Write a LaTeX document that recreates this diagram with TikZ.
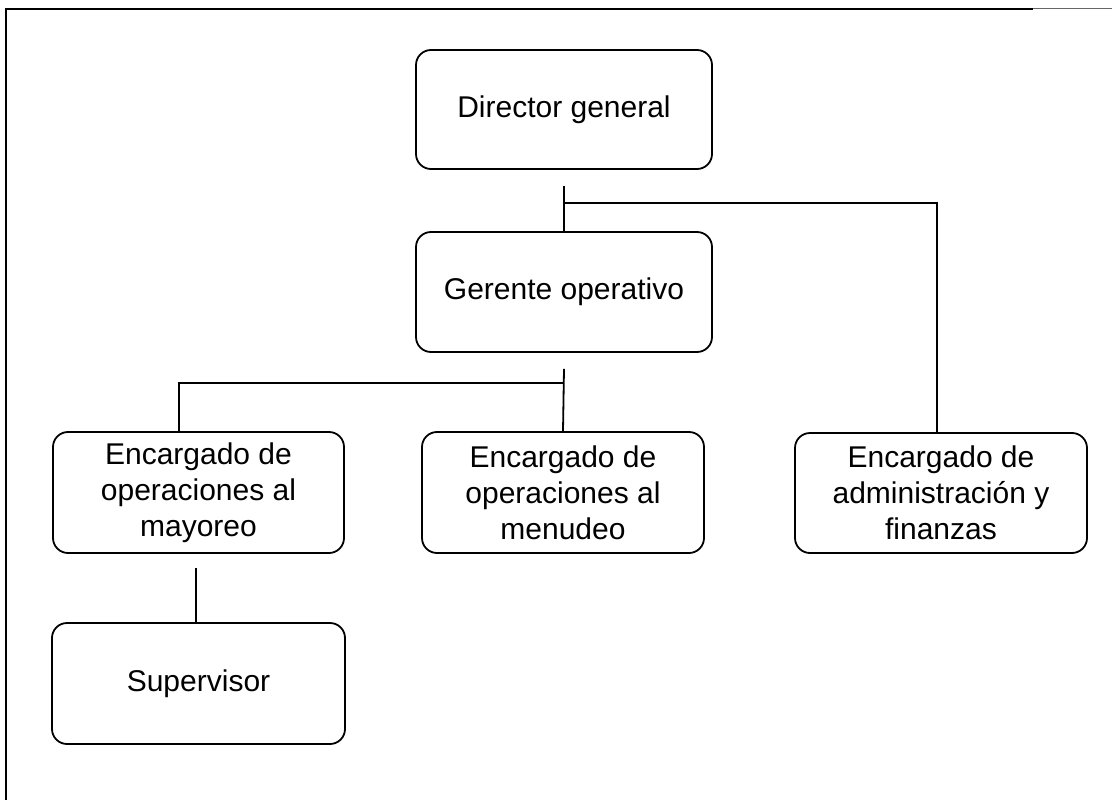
\documentclass[tikz,border=0pt]{standalone}
\usepackage{fontspec}
\setmainfont{Liberation Sans}
\usetikzlibrary{calc}
\tikzset{
  orgbox/.style={draw, line width=1.8pt, rounded corners=15pt, align=center,
    inner sep=0pt, font=\fontsize{30}{36}\selectfont},
  link/.style={line width=1.8pt},
  thinlink/.style={line width=1.2pt},
  frameline/.style={line width=2.6pt}
}
\begin{document}
\begin{tikzpicture}[x=1pt,y=-1pt]
\useasboundingbox (0,0) rectangle (1112,800);
% frame
\draw[frameline] (1033,9) -- (6,9) -- (6,800);
\draw[line width=1.2pt, black!60] (1033,8.5) -- (1112,8.5);
% nodes
\node[orgbox, minimum width=296pt, minimum height=119pt] (dir) at (564,109.5) {Director general};
\node[orgbox, minimum width=296pt, minimum height=120pt] (ger) at (564,292) {Gerente operativo};
\node[orgbox, minimum width=291pt, minimum height=121pt] (may) at (198.5,492.5) {Encargado de\\operaciones al\\mayoreo};
\node[orgbox, minimum width=282pt, minimum height=121pt] (men) at (563,492.5) {Encargado de\\operaciones al\\menudeo};
\node[orgbox, minimum width=292pt, minimum height=120pt] (adm) at (941,493) {Encargado de\\administraci\'on y\\finanzas};
\node[orgbox, minimum width=293pt, minimum height=121pt] (sup) at (198.5,683.5) {Supervisor};
% connectors
\coordinate (j1) at ($(dir.south)+(0,33)$);
\draw[link] ($(dir.south)+(0,16)$) -- (ger.north);
\draw[link] (j1) -| ([xshift=-4pt]adm.north);
\coordinate (j2) at ($(ger.south)+(0,30)$);
\draw[link] ($(ger.south)+(0,16)$) -- (men.north);
\draw[link] (j2) -| ([xshift=-19.5pt]may.north);
\draw[thinlink] ($([xshift=-2.5pt]may.south)+(0,14)$) -- ([xshift=-2.5pt]sup.north);
\end{tikzpicture}
\end{document}
